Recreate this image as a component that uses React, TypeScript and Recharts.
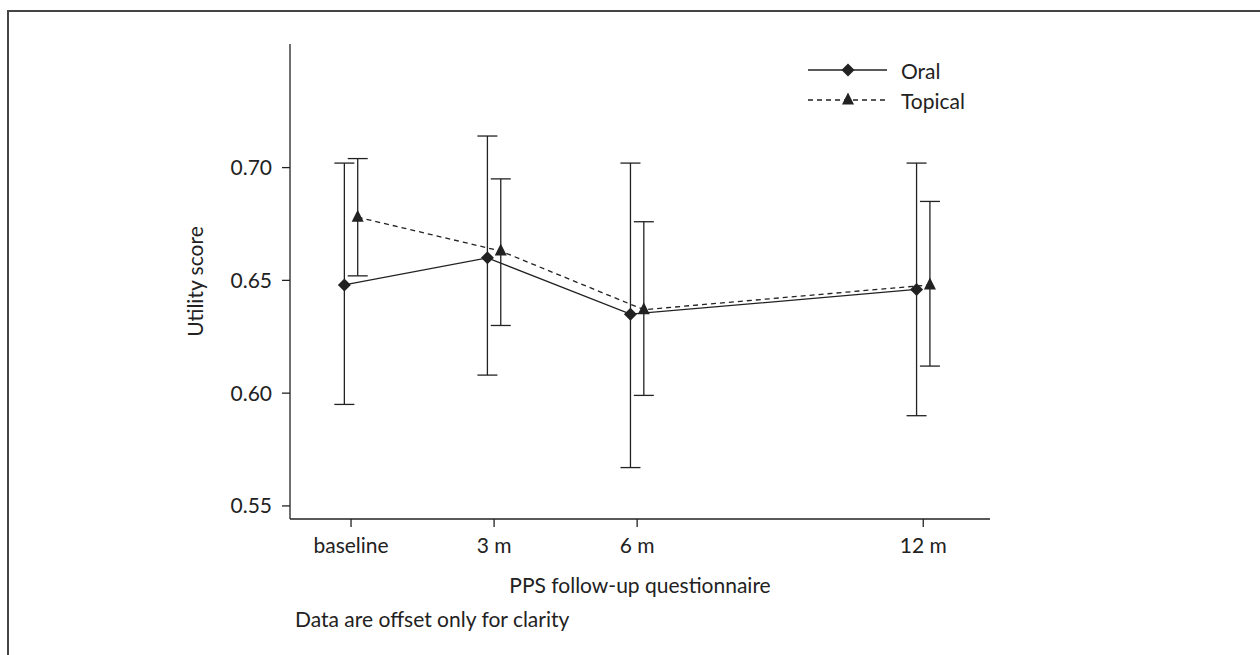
import React from "react";
import {
  ComposedChart,
  Line,
  XAxis,
  YAxis,
  ErrorBar,
} from "recharts";

// follow-up times in months
const months = [0, 3, 6, 12];
const tickLabels = ["baseline", "3 m", "6 m", "12 m"];

const oralMean = [0.648, 0.660, 0.635, 0.646];
const oralLow = [0.595, 0.608, 0.567, 0.590];
const oralHigh = [0.702, 0.714, 0.702, 0.702];

const topicalMean = [0.678, 0.663, 0.637, 0.648];
const topicalLow = [0.652, 0.630, 0.599, 0.612];
const topicalHigh = [0.704, 0.695, 0.676, 0.685];

const yTicks = [0.55, 0.6, 0.65, 0.7];

const INK = "#222";
const FONT = "Lato, 'Open Sans', sans-serif";
const FS = 21;
const SHIFT = 0.14; // data offset for clarity

const build = (mean: number[], low: number[], high: number[], shift: number) =>
  months.map((m, i) => ({
    x: m + shift,
    y: mean[i],
    err: [mean[i] - low[i], high[i] - mean[i]],
  }));

const oralData = build(oralMean, oralLow, oralHigh, -SHIFT);
const topicalData = build(topicalMean, topicalLow, topicalHigh, SHIFT);

const Diamond = (props: any) => {
  const { cx, cy, index } = props;
  if (cx == null || cy == null) return <g key={index} />;
  const r = 6.5;
  return (
    <polygon
      key={index}
      points={`${cx},${cy - r} ${cx + r},${cy} ${cx},${cy + r} ${cx - r},${cy}`}
      fill={INK}
    />
  );
};

const Triangle = (props: any) => {
  const { cx, cy, index } = props;
  if (cx == null || cy == null) return <g key={index} />;
  const h = 12;
  const w = 12;
  return (
    <polygon
      key={index}
      points={`${cx},${cy - h * 0.62} ${cx + w / 2},${cy + h * 0.38} ${cx - w / 2},${cy + h * 0.38}`}
      fill={INK}
    />
  );
};

function LegendRow({ dashed, marker, label }: { dashed: boolean; marker: "d" | "t"; label: string }) {
  return (
    <div style={{ display: "flex", alignItems: "center", height: 30 }}>
      <svg width={80} height={20}>
        <line
          x1={0}
          y1={10}
          x2={79}
          y2={10}
          stroke={INK}
          strokeWidth={1.3}
          strokeDasharray={dashed ? "5 4" : undefined}
        />
        {marker === "d" ? <Diamond cx={40} cy={10} /> : <Triangle cx={40} cy={10} />}
      </svg>
      <span style={{ marginLeft: 13, fontSize: FS, color: INK, fontFamily: FONT }}>{label}</span>
    </div>
  );
}

export default function App() {
  return (
    <div style={{ position: "absolute", left: 0, top: 0, width: 1260, height: 655, background: "#fff", overflow: "hidden" }}>
      <div
        style={{
          position: "absolute",
          left: 7,
          top: 10,
          width: 1260,
          height: 700,
          borderTop: "2px solid #444",
          borderLeft: "2px solid #444",
        }}
      />
      <div style={{ position: "absolute", left: 0, top: 0 }}>
        <ComposedChart
          width={1260}
          height={655}
          margin={{ top: 44, right: 270, bottom: 106, left: 180 }}
          style={{ fontFamily: FONT }}
        >
          <XAxis
            dataKey="x"
            type="number"
            domain={[-1.28, 13.4]}
            ticks={months}
            tickFormatter={(v: number) => tickLabels[months.indexOf(v)] ?? ""}
            allowDataOverflow
            height={30}
            stroke={INK}
            strokeWidth={1.3}
            tickSize={8}
            tickMargin={11}
            tick={{ fill: INK, fontSize: FS }}
            label={{
              value: "PPS follow-up questionnaire",
              position: "bottom",
              offset: 29,
              fill: INK,
              fontSize: FS,
            }}
          />
          <YAxis
            type="number"
            domain={[0.5442, 0.7548]}
            ticks={yTicks}
            allowDataOverflow
            width={110}
            stroke={INK}
            strokeWidth={1.3}
            tickSize={8}
            tickMargin={10}
            tickFormatter={(v: number) => v.toFixed(2)}
            tick={{ fill: INK, fontSize: FS }}
            label={{
              value: "Utility score",
              angle: -90,
              position: "insideLeft",
              offset: 16,
              fill: INK,
              fontSize: FS,
              style: { textAnchor: "middle" },
            }}
          />
          <Line
            data={oralData}
            dataKey="y"
            name="Oral"
            stroke={INK}
            strokeWidth={1.3}
            dot={Diamond}
            activeDot={false}
            isAnimationActive={false}
          >
            <ErrorBar dataKey="err" direction="y" width={10} stroke={INK} strokeWidth={1.3} />
          </Line>
          <Line
            data={topicalData}
            dataKey="y"
            name="Topical"
            stroke={INK}
            strokeWidth={1.3}
            strokeDasharray="5 4"
            dot={Triangle}
            activeDot={false}
            isAnimationActive={false}
          >
            <ErrorBar dataKey="err" direction="y" width={10} stroke={INK} strokeWidth={1.3} />
          </Line>
        </ComposedChart>
      </div>
      <div style={{ position: "absolute", left: 808, top: 55 }}>
        <LegendRow dashed={false} marker="d" label="Oral" />
        <LegendRow dashed marker="t" label="Topical" />
      </div>
      <div
        style={{
          position: "absolute",
          left: 295,
          top: 608,
          fontSize: FS,
          lineHeight: "21px",
          color: INK,
          fontFamily: FONT,
        }}
      >
        Data are offset only for clarity
      </div>
    </div>
  );
}
